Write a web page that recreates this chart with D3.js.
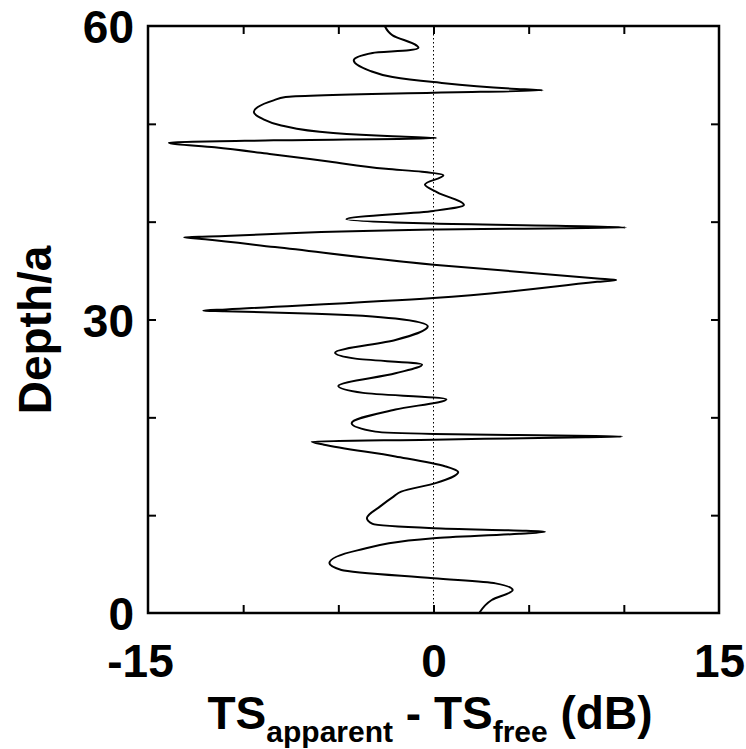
<!DOCTYPE html>
<html><head><meta charset="utf-8">
<script src="https://cdn.jsdelivr.net/npm/d3@7"></script>
<style>body{margin:0;background:#fff}</style>
</head><body>
<svg id="c" width="746" height="749"></svg>
<script>
// Depth (in units of a), top to bottom
const depth = [60.0, 59.05, 58.02, 57.78, 57.51, 57.24, 56.49, 55.47, 54.79, 54.27,
  53.59, 53.42, 53.18, 52.74, 52.4, 51.72, 51.21, 50.53, 49.84, 49.06,
  48.72, 48.55, 48.31, 48.07, 47.6, 46.9, 46.15, 45.4, 45.1, 44.75,
  43.8, 43.0, 41.7, 41.1, 40.25, 39.8, 39.4, 39.2, 38.48, 38.4,
  38.2, 37.4, 35.6, 34.2, 34.05, 33.85, 32.2, 31.03, 30.9, 30.85,
  30.6, 30.1, 29.3, 27.9, 26.6, 26.0, 25.4, 24.5, 23.2, 22.5,
  21.85, 20.8, 19.4, 18.54, 18.3, 18.08, 18.03, 17.97, 17.72, 17.52,
  17.2, 16.0, 15.0, 14.4, 13.3, 12.4, 11.9, 10.9, 9.7, 9.1,
  8.66, 8.3, 8.1, 7.64, 6.4, 5.1, 4.4, 3.55, 3.03, 2.35,
  1.33, 0.0];
// TS_apparent - TS_free (dB)
const tsDiff = [-2.56, -2.15, -0.9, -0.79, -1.3, -3.2, -4.19, -3.4, -2.15, 0,
  4.1, 5.73, 0, -7.77, -8.4, -9.23, -9.44, -9.0, -8.0, -5.27,
  -2.15, 0.15, -8.4, -13.9, -11.5, -8.5, -5.5, -2.5, -0.6, 0.52,
  -0.45, 0.2, 1.6, 0, -4.58, 0, 10.1, 0, -11.8, -13.1,
  -12.0, -8.33, 0, 8.6, 9.6, 8.6, 0, -10.9, -12.1, -11.0,
  -6.2, -2.0, -0.3, -2.0, -5.17, -4.1, -0.6, -2.0, -5.0, -3.7,
  0.68, -2.0, -4.3, -3.05, 0, 8.5, 9.9, 8.0, 0, -6.4,
  -5.75, -2.0, 0.6, 1.3, 0.15, -1.7, -2.1, -2.8, -3.5, -3.2,
  0, 5.86, 4.5, 0, -4.0, -5.47, -4.84, 0, 3.26, 4.16,
  3.06, 2.4];

const xTickLabels = [-15, 0, 15];
const yTickLabels = [0, 30, 60];
const xTickMarks = [-10, -5, 0, 5, 10];
const yTickMarks = [10, 20, 30, 40, 50];

const L = 148, R = 719, T = 26, B = 613;
const x = d3.scaleLinear().domain([-15, 15]).range([L, R]);
const y = d3.scaleLinear().domain([0, 60]).range([B, T]);

const svg = d3.select("#c");
const font = "'Liberation Sans', Arial, Helvetica, sans-serif";

// zero reference line (dotted)
svg.append("line")
  .attr("x1", x(0)).attr("x2", x(0)).attr("y1", y(60)).attr("y2", y(0))
  .attr("stroke", "#000").attr("stroke-width", 1)
  .attr("stroke-dasharray", "1.5,2.5");

// curve
const pts = depth.map((d, i) => [tsDiff[i], d]);
const line = d3.line().x(d => x(d[0])).y(d => y(d[1])).curve(d3.curveMonotoneY);
svg.append("path").datum(pts).attr("d", line)
  .attr("fill", "none").attr("stroke", "#000").attr("stroke-width", 2)
  .attr("stroke-linejoin", "round");

// inner tick marks via axes
const tk = 8;
svg.append("g").attr("transform", `translate(0,${B})`)
  .call(d3.axisTop(x).tickValues(xTickMarks).tickSize(tk).tickFormat(""))
  .call(g => g.select(".domain").remove())
  .selectAll("line").attr("stroke-width", 2);
svg.append("g").attr("transform", `translate(0,${T})`)
  .call(d3.axisBottom(x).tickValues(xTickMarks).tickSize(tk).tickFormat(""))
  .call(g => g.select(".domain").remove())
  .selectAll("line").attr("stroke-width", 2);
svg.append("g").attr("transform", `translate(${L},0)`)
  .call(d3.axisRight(y).tickValues(yTickMarks).tickSize(tk).tickFormat(""))
  .call(g => g.select(".domain").remove())
  .selectAll("line").attr("stroke-width", 2);
svg.append("g").attr("transform", `translate(${R},0)`)
  .call(d3.axisLeft(y).tickValues(yTickMarks).tickSize(tk).tickFormat(""))
  .call(g => g.select(".domain").remove())
  .selectAll("line").attr("stroke-width", 2);

// frame
svg.append("rect").attr("x", L).attr("y", T).attr("width", R - L).attr("height", B - T)
  .attr("fill", "none").attr("stroke", "#000").attr("stroke-width", 2.5);

// tick labels
const xl = svg.append("g").attr("transform", `translate(0,${B})`)
  .call(d3.axisBottom(x).tickValues(xTickLabels).tickSize(0).tickPadding(0).tickFormat(d => String(d)));
xl.select(".domain").remove();
xl.selectAll("text").attr("font-family", font).attr("font-weight", "bold")
  .attr("font-size", 46).attr("fill", "#000").attr("dy", null).attr("y", 64)
  .attr("dx", d => d < 0 ? -8 : 0);

const yl = svg.append("g").attr("transform", `translate(${L},0)`)
  .call(d3.axisLeft(y).tickValues(yTickLabels).tickSize(0).tickPadding(14).tickFormat(d => String(d)));
yl.select(".domain").remove();
yl.selectAll("text").attr("font-family", font).attr("font-weight", "bold")
  .attr("font-size", 46).attr("fill", "#000").attr("dy", "0.36em");

// axis titles
const xt = svg.append("text").attr("x", 430).attr("y", 729)
  .attr("text-anchor", "middle").attr("font-family", font).attr("font-weight", "bold")
  .attr("font-size", 46).attr("fill", "#000");
xt.append("tspan").text("TS");
xt.append("tspan").attr("font-size", 30).attr("dy", 13).text("apparent");
xt.append("tspan").attr("dy", -13).text(" - TS");
xt.append("tspan").attr("font-size", 30).attr("dy", 13).text("free");
xt.append("tspan").attr("dy", -13).text(" (dB)");

svg.append("text").attr("transform", "translate(51,330) rotate(-90)")
  .attr("text-anchor", "middle").attr("font-family", font).attr("font-weight", "bold")
  .attr("font-size", 46).attr("fill", "#000").text("Depth/a");
</script>
</body></html>
